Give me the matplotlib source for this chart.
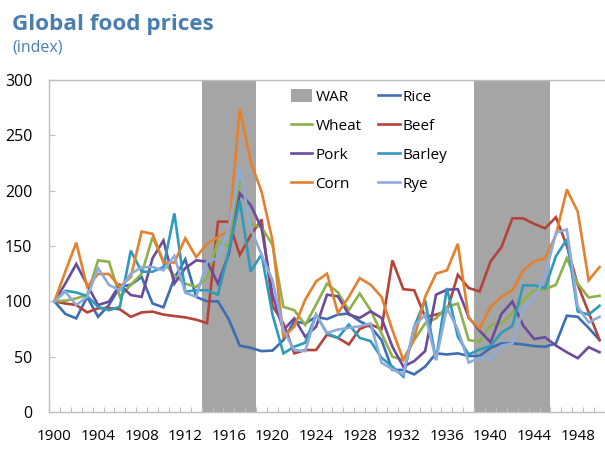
import numpy as np
import matplotlib.pyplot as plt
from matplotlib.patches import Patch
from matplotlib.lines import Line2D

plt.rcParams['font.family'] = ['Open Sans', 'DejaVu Sans']

years = list(range(1900, 1951))

rice = [100, 88.6, 84.6, 104, 86, 96.7, 113, 115, 122, 98, 94.6, 121, 138, 104, 100,
        100, 83.5, 60, 58, 55, 55.5, 65, 82, 80, 86, 84, 88, 89, 82, 77,
        65, 38, 38, 34, 41, 53, 52, 53, 50.6, 50.6, 58, 62, 62, 61, 59.6,
        59, 62, 87, 86, 76, 65]
beef = [100, 98, 96.7, 90, 93.7, 94, 92.8, 86, 90, 90.7, 88, 86.7, 85.5, 83.4, 80.4,
        172, 172, 142, 159.6, 174, 96, 80, 53, 56, 56, 70, 67, 61, 75, 79,
        75, 137, 111, 110, 86, 88, 91, 124, 112, 109, 136, 149, 175, 175, 170,
        166, 176, 150, 115, 90, 65]
wheat = [100, 100.6, 102.7, 105.7, 137, 135.8, 104.2, 114.8, 125, 158, 136, 123, 116, 113, 121,
         155, 149, 212, 170, 167, 151, 95, 92, 78.6, 97, 116, 108, 92, 107, 92,
         71, 50, 47, 65, 80, 84.6, 95, 98, 65, 63.6, 78.6, 80, 89, 101, 110,
         110.8, 115, 139, 116, 103.5, 105]
pork = [100, 116, 133.7, 115, 96.7, 99.7, 115, 105.7, 104, 139, 155, 116, 130, 137, 136,
        116, 143, 197.5, 187, 166, 106, 74, 84.6, 68, 77, 106, 104.5, 88, 85, 91,
        85, 59, 41, 46, 55, 106, 110.5, 111, 85.5, 73.5, 63, 88.6, 99.8, 78, 66,
        67.5, 60, 54, 48.6, 58.6, 54]
barley = [100, 109.6, 108, 104.8, 95, 92, 95, 145.8, 126.8, 126.8, 131, 179.5, 108.7, 110, 110,
          106, 146, 191, 127, 142.5, 88, 53, 59, 62.6, 88, 71, 67, 79, 67, 64,
          49, 41, 32, 77, 101, 47, 112, 68, 52, 56.5, 59.6, 71.7, 77.7, 114.4, 114.4,
          112, 140.8, 156, 90.8, 88, 96]
corn = [100, 127, 153, 113, 124.7, 124.7, 113, 122, 163, 161, 135, 135, 157, 140, 152,
        158, 164, 274, 226, 199, 155, 68, 77, 101.5, 118, 125, 89.5, 104, 121, 115,
        104, 74, 47, 66.5, 104, 125, 128, 152, 84.6, 75.6, 95, 104, 110, 128, 136,
        139, 160, 201, 181, 119, 131]
rye = [100, 108.7, 96.7, 104, 130, 114.8, 110, 125, 130.7, 131, 128, 141, 107.8, 104, 136,
       139, 166, 219.5, 166, 142, 119, 74, 56, 55, 88, 71.5, 74.5, 76, 77.5, 80,
       44.6, 38.6, 34, 77.4, 88, 47, 94, 74.5, 44.6, 49, 48, 60, 62, 93, 102,
       123, 162, 165, 95, 81, 86]

war_periods = [(1914, 1918), (1939, 1945)]

colors = {
    'Rice': '#3D6DB3',
    'Beef': '#B5423B',
    'Wheat': '#8DB14C',
    'Pork': '#6D4B9B',
    'Barley': '#2F9BBA',
    'Corn': '#E4812F',
    'Rye': '#8FABDB',
}
war_color = '#A5A5A5'
axis_grey = '#BFBFBF'
title_blue = '#4A7EB1'

fig = plt.figure(figsize=(6.05, 4.49), dpi=100)
ax = fig.add_axes([49 / 605, 37 / 449, 556 / 605, 332 / 449])

# Kriegsjahre als graue Balken
for start, end in war_periods:
    ax.axvspan(start - 0.5, end + 0.5, color=war_color, lw=0, zorder=1)

series = [('Rice', rice), ('Beef', beef), ('Wheat', wheat), ('Pork', pork),
          ('Barley', barley), ('Corn', corn), ('Rye', rye)]
for name, vals in series:
    ax.plot(years, vals, color=colors[name], lw=1.9, zorder=3, solid_joinstyle='miter')

ax.set_xlim(1899.5, 1950.05)
ax.set_ylim(0, 300)
ax.set_yticks(np.arange(0, 301, 50))
ax.set_xticks(range(1900, 1951, 4))
ax.set_xticks(np.arange(1899.5, 1951, 1), minor=True)

ax.tick_params(axis='y', direction='in', length=4.5, width=0.8, color=axis_grey,
               labelsize=11.5, pad=12, labelcolor='black')
ax.tick_params(axis='x', which='major', length=0, labelsize=11, pad=12)
ax.tick_params(axis='x', which='minor', direction='in', length=3.5, width=0.8, color=axis_grey)

for side in ['left', 'bottom', 'top']:
    ax.spines[side].set_color(axis_grey)
    ax.spines[side].set_linewidth(1.0)
ax.spines['right'].set_visible(False)

# Legende: zwei Spalten
handles = [Patch(facecolor=war_color, edgecolor='none'),
           Line2D([], [], color=colors['Wheat'], lw=1.9),
           Line2D([], [], color=colors['Pork'], lw=1.9),
           Line2D([], [], color=colors['Corn'], lw=1.9),
           Line2D([], [], color=colors['Rice'], lw=1.9),
           Line2D([], [], color=colors['Beef'], lw=1.9),
           Line2D([], [], color=colors['Barley'], lw=1.9),
           Line2D([], [], color=colors['Rye'], lw=1.9)]
labels = ['WAR', 'Wheat', 'Pork', 'Corn', 'Rice', 'Beef', 'Barley', 'Rye']
leg = fig.legend(handles, labels, ncol=2, loc='upper left',
                 bbox_to_anchor=(291 / 605, 1 - 89 / 449), frameon=False,
                 fontsize=11, handlelength=1.4, handleheight=0.9, handletextpad=0.2,
                 columnspacing=1.1, labelspacing=0.88, borderpad=0, borderaxespad=0)

fig.text(12 / 605, 1 - 30 / 449, 'Global food prices', fontsize=16.2, fontweight='bold',
         color=title_blue, va='baseline', ha='left')
fig.text(12 / 605, 1 - 52 / 449, '(index)', fontsize=11.5, color=title_blue,
         va='baseline', ha='left')

fig.savefig('out.png', dpi=100)
